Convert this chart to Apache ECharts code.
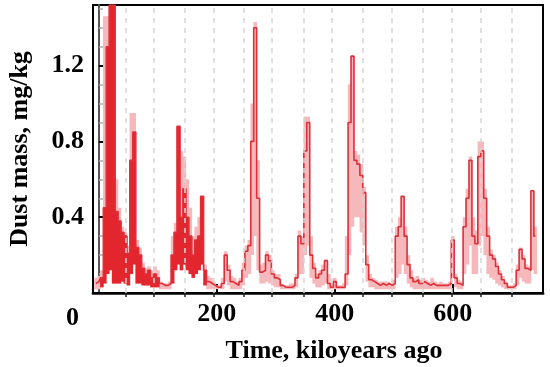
<!DOCTYPE html>
<html>
<head>
<meta charset="utf-8">
<script src="https://cdn.jsdelivr.net/npm/echarts@6/dist/echarts.min.js"></script>
<style>html,body{margin:0;padding:0;background:#fff}#c{width:550px;height:367px}</style>
</head>
<body>
<div id="c"></div>
<script>
// time, kiloyears ago
const time = [-5,0,5,10,15,20,25,30,35,40,45,50,55,60,65,70,75,80,85,90,95,100,105,110,115,120,125,130,135,140,145,150,155,160,165,170,175,180,185,190,195,200,205,210,215,220,225,230,235,240,245,250,255,260,265,270,275,280,285,290,295,300,305,310,315,320,325,330,335,340,345,350,355,360,365,370,375,380,385,390,395,400,405,410,415,420,425,430,435,440,445,450,455,460,465,470,475,480,485,490,495,500,505,510,515,520,525,530,535,540,545,550,555,560,565,570,575,580,585,590,595,600,605,610,615,620,625,630,635,640,645,650,655,660,665,670,675,680,685,690,695,700,705,710,715,720,725,730,735,740];
// central dust mass, mg/kg
const dustMean = [0.05,0.06,0.08,0.45,1.30,1.52,1.52,0.43,0.38,0.32,0.30,0.21,0.70,0.85,0.24,0.20,0.13,0.10,0.12,0.08,0.10,0.08,0.05,0.04,0.04,0.05,0.20,0.32,0.88,0.40,0.55,0.40,0.30,0.20,0.28,0.30,0.51,0.12,0.06,0.05,0.04,0.03,0.03,0.05,0.20,0.12,0.06,0.05,0.04,0.06,0.12,0.22,0.25,0.80,1.40,0.50,0.11,0.12,0.20,0.17,0.10,0.08,0.07,0.04,0.03,0.03,0.03,0.04,0.08,0.30,0.26,0.75,0.90,0.20,0.13,0.08,0.10,0.12,0.17,0.05,0.03,0.06,0.03,0.03,0.03,0.10,0.90,1.25,0.70,0.68,0.62,0.53,0.15,0.07,0.06,0.05,0.04,0.05,0.04,0.05,0.04,0.05,0.30,0.35,0.51,0.30,0.15,0.08,0.06,0.07,0.05,0.06,0.05,0.04,0.05,0.04,0.04,0.04,0.04,0.04,0.05,0.28,0.08,0.05,0.04,0.35,0.50,0.70,0.30,0.26,0.72,0.75,0.50,0.30,0.20,0.18,0.14,0.10,0.07,0.05,0.03,0.03,0.04,0.12,0.23,0.18,0.13,0.12,0.54,0.30];
// upper envelope
const dustHigh = [0.08,0.09,0.12,1.46,1.46,1.52,1.52,0.60,0.45,0.35,0.32,0.25,0.95,0.95,0.28,0.24,0.16,0.13,0.14,0.12,0.14,0.12,0.06,0.05,0.05,0.06,0.30,0.37,0.88,0.75,0.72,0.60,0.45,0.30,0.35,0.40,0.51,0.15,0.09,0.08,0.06,0.04,0.04,0.08,0.22,0.15,0.09,0.08,0.06,0.08,0.16,0.25,0.28,1.00,1.43,0.70,0.15,0.16,0.22,0.20,0.12,0.10,0.10,0.05,0.04,0.04,0.05,0.05,0.10,0.33,0.30,0.93,0.93,0.30,0.16,0.10,0.12,0.15,0.18,0.10,0.04,0.08,0.04,0.04,0.05,0.30,1.10,1.25,0.75,0.73,0.68,0.56,0.20,0.10,0.08,0.07,0.06,0.06,0.06,0.06,0.05,0.07,0.35,0.40,0.51,0.35,0.20,0.12,0.08,0.09,0.07,0.08,0.07,0.06,0.08,0.06,0.05,0.06,0.05,0.05,0.06,0.30,0.10,0.07,0.06,0.40,0.55,0.72,0.40,0.33,0.80,0.80,0.55,0.35,0.23,0.20,0.16,0.12,0.09,0.06,0.04,0.04,0.05,0.15,0.24,0.20,0.15,0.14,0.54,0.35];
// lower envelope
const dustLow = [0.02,0.02,0.03,0.05,0.10,0.12,0.05,0.05,0.05,0.06,0.05,0.04,0.10,0.15,0.05,0.05,0.04,0.04,0.04,0.03,0.03,0.03,0.02,0.02,0.02,0.02,0.05,0.12,0.15,0.12,0.15,0.12,0.10,0.08,0.10,0.12,0.15,0.04,0.02,0.02,0.02,0.02,0.02,0.02,0.06,0.04,0.02,0.02,0.02,0.02,0.04,0.08,0.10,0.20,0.30,0.12,0.05,0.05,0.06,0.05,0.04,0.03,0.03,0.02,0.02,0.02,0.02,0.02,0.03,0.10,0.10,0.20,0.25,0.08,0.05,0.03,0.03,0.04,0.05,0.02,0.02,0.02,0.02,0.02,0.02,0.04,0.20,0.35,0.40,0.40,0.32,0.25,0.06,0.03,0.03,0.02,0.02,0.02,0.02,0.02,0.02,0.02,0.08,0.10,0.15,0.10,0.05,0.03,0.02,0.02,0.02,0.02,0.02,0.02,0.02,0.02,0.02,0.02,0.02,0.02,0.02,0.08,0.03,0.02,0.02,0.10,0.15,0.25,0.10,0.10,0.25,0.30,0.20,0.10,0.08,0.07,0.05,0.04,0.03,0.02,0.02,0.02,0.02,0.04,0.08,0.06,0.05,0.05,0.12,0.10];
// intervals where the record is densely overlapping (solid red)
const denseRanges = [[5, 100], [125, 180]];
// dashed reference lines, kiloyears ago
const markerTimes = [45, 93, 146, 195, 246, 293, 347, 395, 447, 497, 549, 598, 647, 700];
const xTickLabels = [200, 400, 600];
const yTickLabels = [0.4, 0.8, 1.2];
const yMinorTicks = [0.1, 0.2, 0.3, 0.5, 0.6, 0.7, 0.9, 1.0, 1.1, 1.3, 1.4, 1.5];
const STEP = 5; // sampling step of the record, kyr

const FONT = 'Liberation Serif';
const isDense = t => denseRanges.some(r => t >= r[0] && t <= r[1]);
const bandData = time.map((t, i) => [t, dustLow[i], dustHigh[i]]);
const redData = time.filter(t => isDense(t)).map(t => {
  const i = time.indexOf(t);
  return [t, dustLow[i], dustMean[i]];
});
const meanData = time.map((t, i) => [t, dustMean[i]]);

function bandRenderer(color) {
  return function (params, api) {
    const t = api.value(0), lo = api.value(1), hi = api.value(2);
    const p1 = api.coord([t - STEP / 2, hi]);
    const p2 = api.coord([t + STEP / 2, lo]);
    const cs = params.coordSys;
    const shape = echarts.graphic.clipRectByRect(
      {x: p1[0] - 0.3, y: p1[1], width: p2[0] - p1[0] + 0.6, height: p2[1] - p1[1]},
      {x: cs.x, y: cs.y, width: cs.width, height: cs.height});
    return shape && {type: 'rect', shape: shape, style: {fill: color}};
  };
}

const chart = echarts.init(document.getElementById('c'), null, {renderer: 'canvas'});
chart.setOption({
  animation: false,
  backgroundColor: '#fff',
  grid: {left: 93, right: 7, top: 5, bottom: 74, outerBoundsMode: 'none', containLabel: false,
    show: true, borderColor: '#000', borderWidth: 2, backgroundColor: 'transparent'},
  xAxis: [{
    type: 'value', min: -10, max: 753, position: 'bottom',
    axisLine: {show: true, lineStyle: {color: '#444', width: 3}},
    axisTick: {show: true, inside: true, length: 9, customValues: xTickLabels, lineStyle: {color: '#000', width: 2}},
    axisLabel: {customValues: xTickLabels, margin: 8, color: '#000', fontFamily: FONT, fontWeight: 'bold', fontSize: 26},
    splitLine: {show: false},
    name: 'Time, kiloyears ago', nameLocation: 'middle', nameGap: 45,
    nameTextStyle: {color: '#000', fontFamily: FONT, fontWeight: 'bold', fontSize: 26, padding: [0, 0, 0, 32]}
  }, {
    type: 'value', min: -10, max: 753, position: 'top',
    axisLine: {show: true, lineStyle: {color: '#000', width: 2}},
    axisTick: {show: true, inside: true, length: 4, customValues: markerTimes, lineStyle: {color: '#222', width: 1.5}},
    axisLabel: {show: false}, splitLine: {show: false}
  }],
  yAxis: [{
    type: 'value', min: 0, max: 1.52, position: 'left',
    axisLine: {show: true, lineStyle: {color: '#555', width: 2}},
    axisTick: {show: true, inside: true, length: 8, customValues: yTickLabels, lineStyle: {color: '#000', width: 2}},
    axisLabel: {customValues: yTickLabels, margin: 9, color: '#000', fontFamily: FONT, fontWeight: 'bold', fontSize: 26,
      formatter: v => v.toFixed(1)},
    splitLine: {show: false},
    name: 'Dust mass, mg/kg', nameLocation: 'middle', nameGap: 60, nameRotate: 90,
    nameTextStyle: {color: '#000', fontFamily: FONT, fontWeight: 'bold', fontSize: 26}
  }, {
    type: 'value', min: 0, max: 1.52, position: 'left',
    axisLine: {show: false},
    axisTick: {show: true, inside: true, length: 4, customValues: yMinorTicks, lineStyle: {color: '#aaa', width: 1.5}},
    axisLabel: {show: false}, splitLine: {show: false}
  }],
  graphic: [{
    type: 'text', left: 66, top: 305, silent: true,
    style: {text: '0', fill: '#000', font: 'bold 26px "Liberation Serif"'}
  }],
  series: [
    {
      type: 'line', data: [], silent: true, z: 1,
      markLine: {
        silent: true, symbol: 'none', label: {show: false},
        lineStyle: {color: '#d6d6d6', type: [5, 5], width: 1.5},
        data: markerTimes.map(t => ({xAxis: t}))
      }
    },
    {type: 'custom', renderItem: bandRenderer('#f7b8bb'), data: bandData, encode: {x: 0, y: [1, 2]}, z: 2, silent: true},
    {type: 'custom', renderItem: bandRenderer('#e3262e'), data: redData, encode: {x: 0, y: [1, 2]}, z: 3, silent: true},
    {type: 'line', step: 'middle', data: meanData, symbol: 'none', clip: true,
      lineStyle: {width: 1.6, color: '#de3038'}, z: 4}
  ]
});
</script>
</body>
</html>
